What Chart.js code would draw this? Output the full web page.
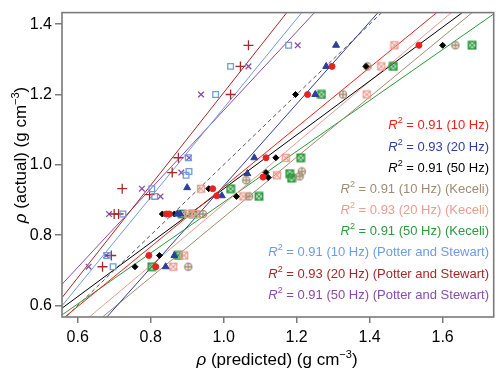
<!DOCTYPE html>
<html lang="en">
<head>
    <meta charset="UTF-8">
    <title>Predicted vs actual density</title>
    <script src="https://cdn.jsdelivr.net/npm/chart.js"></script>
    <style>
        body { margin: 0; background: #fff; }
        #wrap { width: 500px; height: 372px; }
    </style>
</head>
<body>
<div id="wrap"><canvas id="densityChart" width="500" height="372"></canvas></div>
<script>
// axis ticks
const xTicks = [0.6, 0.8, 1.0, 1.2, 1.4, 1.6];
const xTickLabels = ['0.6', '0.8', '1.0', '1.2', '1.4', '1.6'];
const yTicks = [0.6, 0.8, 1.0, 1.2, 1.4];
const yTickLabels = ['0.6', '0.8', '1.0', '1.2', '1.4'];

// measured points: predicted (x) and actual (y) density
const hz10Pred = [1.535, 1.297, 1.23, 1.116, 1.108, 0.97, 0.981, 0.843, 0.851, 0.795, 0.814];
const hz10Act  = [1.34, 1.28, 1.2, 1.02, 0.965, 0.932, 0.912, 0.86, 0.86, 0.742, 0.71];
const hz20Pred = [1.308, 1.281, 1.251, 1.084, 1.065, 0.9, 0.995, 0.873, 0.881, 0.865, 0.841];
const hz20Act  = [1.34, 1.28, 1.2, 1.02, 0.975, 0.935, 0.912, 0.86, 0.86, 0.742, 0.71];
const hz50Pred = [1.6, 1.39, 1.197, 1.143, 1.116, 1.122, 0.959, 1.035, 0.832, 0.865, 0.824, 0.757];
const hz50Act  = [1.34, 1.28, 1.2, 1.02, 0.978, 0.964, 0.932, 0.91, 0.86, 0.86, 0.742, 0.71];
const kec10Pred = [1.635, 1.394, 1.327, 1.208, 1.214, 1.062, 1.07, 0.943, 0.903];
const kec10Act  = [1.34, 1.28, 1.2, 0.967, 0.981, 0.956, 0.91, 0.86, 0.71];
const kec20Pred = [1.468, 1.432, 1.392, 1.17, 1.146, 0.938, 1.054, 0.903, 0.924, 0.892, 0.862];
const kec20Act  = [1.34, 1.28, 1.2, 1.02, 0.97, 0.932, 0.91, 0.86, 0.86, 0.742, 0.71];
const kec50Pred = [1.681, 1.465, 1.268, 1.211, 1.181, 1.186, 1.019, 1.097, 0.886, 0.916, 0.876, 0.803];
const kec50Act  = [1.34, 1.28, 1.2, 1.02, 0.975, 0.962, 0.932, 0.91, 0.86, 0.86, 0.742, 0.71];
const pot10Pred = [1.178, 1.019, 0.978, 0.903, 0.897, 0.905, 0.803, 0.811, 0.724, 0.681, 0.697];
const pot10Act  = [1.34, 1.28, 1.2, 1.02, 0.97, 0.981, 0.932, 0.91, 0.86, 0.742, 0.71];
const pot20Pred = [1.068, 1.046, 1.019, 0.876, 0.859, 0.722, 0.797, 0.7, 0.712, 0.692, 0.668];
const pot20Act  = [1.34, 1.28, 1.2, 1.02, 0.978, 0.932, 0.915, 0.86, 0.86, 0.742, 0.71];
const pot50Pred = [1.203, 1.068, 0.938, 0.905, 0.884, 0.776, 0.827, 0.686, 0.678, 0.63];
const pot50Act  = [1.34, 1.28, 1.2, 1.02, 0.978, 0.932, 0.91, 0.86, 0.742, 0.71];

// fitted lines, read as two end points each (same order as the series)
const fitStartPred = [0.565, 0.68, 0.557, 0.668, 0.632, 0.557, 0.557, 0.557, 0.557];
const fitStartAct  = [0.567, 0.567, 0.592, 0.567, 0.567, 0.573, 0.599, 0.622, 0.66];
const fitEndPred   = [1.584, 1.423, 1.654, 1.681, 1.624, 1.74, 1.214, 1.173, 1.249];
const fitEndAct    = [1.433, 1.433, 1.433, 1.433, 1.433, 1.429, 1.433, 1.433, 1.433];

// legend text
const r2Values = ['0.91', '0.93', '0.91', '0.91', '0.93', '0.91', '0.91', '0.93', '0.91'];
const seriesNames = ['(10 Hz)', '(20 Hz)', '(50 Hz)',
    '(10 Hz) (Keceli)', '(20 Hz) (Keceli)', '(50 Hz) (Keceli)',
    '(10 Hz) (Potter and Stewart)', '(20 Hz) (Potter and Stewart)', '(50 Hz) (Potter and Stewart)'];

const colors = ['#e8221e', '#2d3f9d', '#000000', '#a28b6f', '#ec9c90', '#2b9a3d', '#6f9be0', '#a5282a', '#8b4bae'];
const FONT = '"Liberation Sans", Arial, Helvetica, sans-serif';

// little canvases for the circle-plus and box-cross markers
function makeMarker(kind, color) {
    const c = document.createElement('canvas');
    c.width = 10; c.height = 10;
    const g = c.getContext('2d');
    g.strokeStyle = color;
    g.lineWidth = 1.3;
    if (kind === 'oplus') {
        g.beginPath(); g.arc(5, 5, 3.6, 0, Math.PI * 2); g.stroke();
        g.beginPath(); g.moveTo(5, 1); g.lineTo(5, 9); g.moveTo(1, 5); g.lineTo(9, 5); g.stroke();
    } else {
        g.lineWidth = kind === 'boxbold' ? 1.8 : 1.3;
        g.strokeRect(1.5, 1.5, 7, 7);
        g.lineWidth = 1.1;
        g.beginPath(); g.moveTo(2, 2); g.lineTo(8, 8); g.moveTo(8, 2); g.lineTo(2, 8); g.stroke();
    }
    return c;
}

const pointSets = [
    [hz10Pred, hz10Act, 'circle', 3],
    [hz20Pred, hz20Act, 'triangle', 4],
    [hz50Pred, hz50Act, 'rectRot', 3],
    [kec10Pred, kec10Act, makeMarker('oplus', colors[3]), 5],
    [kec20Pred, kec20Act, makeMarker('box', colors[4]), 5],
    [kec50Pred, kec50Act, makeMarker('boxbold', colors[5]), 5],
    [pot10Pred, pot10Act, 'rect', 4],
    [pot20Pred, pot20Act, 'cross', 5],
    [pot50Pred, pot50Act, 'crossRot', 4]
];

const datasets = [];

// dashed 1:1 line
datasets.push({
    data: [{ x: 0.5, y: 0.5 }, { x: 1.5, y: 1.5 }],
    showLine: true, borderColor: '#555', borderWidth: 1, borderDash: [4, 3],
    pointRadius: 0, order: 20
});

fitStartPred.forEach((x0, i) => {
    datasets.push({
        data: [{ x: x0, y: fitStartAct[i] }, { x: fitEndPred[i], y: fitEndAct[i] }],
        showLine: true, borderColor: colors[i], borderWidth: 1,
        pointRadius: 0, order: 10
    });
});

pointSets.forEach(([px, py, style, r], i) => {
    const open = i === 6;
    datasets.push({
        data: px.map((x, k) => ({ x: x, y: py[k] })),
        showLine: false,
        pointStyle: style,
        pointRadius: r,
        pointBackgroundColor: open ? 'rgba(0,0,0,0)' : colors[i],
        pointBorderColor: colors[i],
        pointBorderWidth: (i === 7 || i === 8 || open) ? 1.3 : 1,
        order: 1
    });
});

// frame, axis titles and R^2 legend
const extras = {
    id: 'extras',
    afterDraw(chart) {
        const ctx = chart.ctx;
        const a = chart.chartArea;
        ctx.save();
        ctx.strokeStyle = '#7a7a7a';
        ctx.lineWidth = 1.6;
        ctx.strokeRect(a.left, a.top, a.right - a.left, a.bottom - a.top);

        // draws "ρ (label) (g cm-3)" starting at x, baseline y
        function axisTitle(label, x, y) {
            const parts = [
                ['italic 17px ' + FONT, 'ρ', 0],
                ['17px ' + FONT, ' (' + label + ') (g cm', 0],
                ['11px ' + FONT, '−3', -7],
                ['17px ' + FONT, ')', 0]
            ];
            let w = 0;
            parts.forEach(p => { ctx.font = p[0]; w += ctx.measureText(p[1]).width; });
            let cx = x - w / 2;
            ctx.fillStyle = '#000';
            ctx.textBaseline = 'alphabetic';
            ctx.textAlign = 'left';
            parts.forEach(p => {
                ctx.font = p[0];
                ctx.fillText(p[1], cx, y + p[2]);
                cx += ctx.measureText(p[1]).width;
            });
        }
        axisTitle('predicted', 277, 365);
        ctx.save();
        ctx.translate(26, 155);
        ctx.rotate(-Math.PI / 2);
        axisTitle('actual', 0, 0);
        ctx.restore();

        // legend rows, right aligned
        const rowY = [129, 151, 172, 193, 214, 235, 256, 278, 299];
        r2Values.forEach((r2, i) => {
            const parts = [
                ['italic 13px ' + FONT, 'R', 0],
                ['9px ' + FONT, '2', -6],
                ['13px ' + FONT, ' = ' + r2 + ' ' + seriesNames[i], 0]
            ];
            let w = 0;
            parts.forEach(p => { ctx.font = p[0]; w += ctx.measureText(p[1]).width; });
            let cx = 489 - w;
            ctx.fillStyle = colors[i];
            ctx.textAlign = 'left';
            parts.forEach(p => {
                ctx.font = p[0];
                ctx.fillText(p[1], cx, rowY[i] + p[2]);
                cx += ctx.measureText(p[1]).width;
            });
        });
        ctx.restore();
    }
};

new Chart(document.getElementById('densityChart'), {
    type: 'scatter',
    data: { datasets: datasets },
    plugins: [extras],
    options: {
        responsive: false,
        animation: false,
        layout: { padding: { top: 1, right: 1, left: 0, bottom: 0 } },
        plugins: { legend: { display: false }, tooltip: { enabled: false } },
        scales: {
            x: {
                type: 'linear', min: 0.557, max: 1.74,
                afterBuildTicks: s => { s.ticks = xTicks.map(v => ({ value: v })); },
                afterFit: s => { s.height = 55; },
                ticks: {
                    callback: (v) => xTickLabels[xTicks.indexOf(v)],
                    font: { family: FONT, size: 16 }, color: '#000', padding: 5, maxRotation: 0
                },
                grid: { drawOnChartArea: false, tickLength: 6, color: '#7a7a7a', lineWidth: 1.5 },
                border: { display: false }
            },
            y: {
                type: 'linear', min: 0.567, max: 1.433,
                afterBuildTicks: s => { s.ticks = yTicks.map(v => ({ value: v })); },
                afterFit: s => { s.width = 62; },
                ticks: {
                    callback: (v) => yTickLabels[yTicks.indexOf(v)],
                    font: { family: FONT, size: 16 }, color: '#000', padding: 3
                },
                grid: { drawOnChartArea: false, tickLength: 7, color: '#7a7a7a', lineWidth: 1.5 },
                border: { display: false }
            }
        }
    }
});
</script>
</body>
</html>
